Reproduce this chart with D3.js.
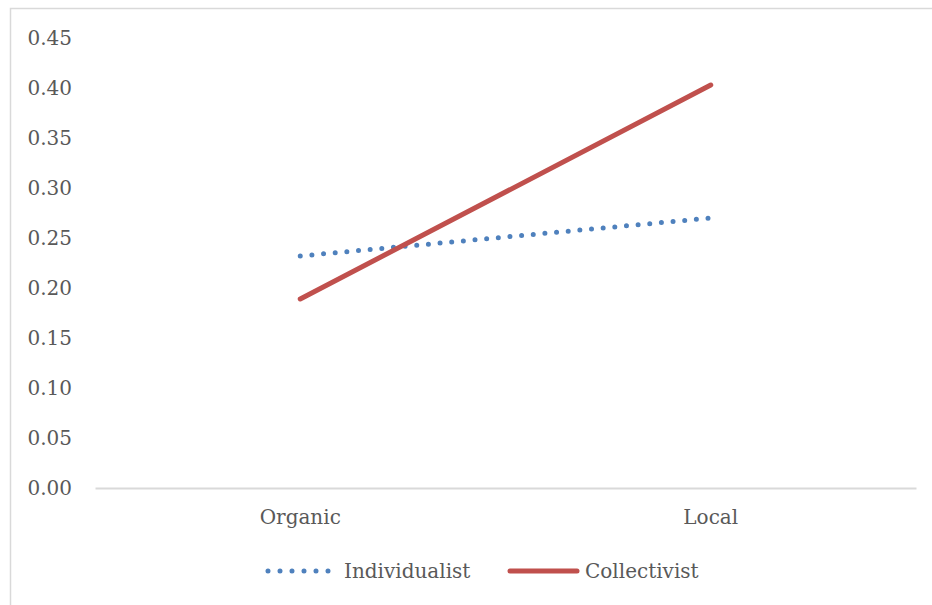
<!DOCTYPE html>
<html><head><meta charset="utf-8">
<script src="https://cdn.jsdelivr.net/npm/d3@7"></script>
<style>html,body{margin:0;padding:0;background:#fff;}svg{display:block;}</style>
</head><body>
<svg id="c" width="932" height="605"></svg>
<script>
const categories = ["Organic", "Local"];
const individualist = [0.232, 0.270];
const collectivist = [0.189, 0.403];
const yTicks = [0, 0.05, 0.10, 0.15, 0.20, 0.25, 0.30, 0.35, 0.40, 0.45];
const seriesNames = ["Individualist", "Collectivist"];

const FONT = "'DejaVu Serif', serif";
const FS = 20;
const svg = d3.select("#c");
svg.append("rect").attr("x",10.5).attr("y",8.5).attr("width",940).attr("height",620)
  .attr("fill","#fff").attr("stroke","#d9d9d9").attr("stroke-width",1.5);

const x = d3.scaleBand().domain(categories).range([95, 916]);
const y = d3.scaleLinear().domain([0, 0.45]).range([488, 38]);

// y tick labels
const ya = svg.append("g").attr("transform","translate(72,0)")
  .call(d3.axisLeft(y).tickValues(yTicks).tickFormat(d3.format(".2f")).tickSize(0).tickPadding(0));
ya.select(".domain").remove();
ya.selectAll("text").attr("font-family",FONT).attr("font-size",FS).attr("fill","#595959");

// x axis
const xa = svg.append("g").attr("transform","translate(0,488)")
  .call(d3.axisBottom(x).tickSize(0).tickPadding(22));
xa.select(".domain").attr("stroke","#d9d9d9").attr("stroke-width",2);
xa.selectAll("text").attr("font-family",FONT).attr("font-size",FS).attr("fill","#595959");

const line = d3.line().x((d,i)=>x(categories[i])+x.bandwidth()/2).y(d=>y(d));
svg.append("path").datum(individualist).attr("d",line).attr("fill","none")
  .attr("stroke","#4f81bd").attr("stroke-width",5).attr("stroke-linecap","round")
  .attr("stroke-dasharray","0 11.7");
svg.append("path").datum(collectivist).attr("d",line).attr("fill","none")
  .attr("stroke","#c0504d").attr("stroke-width",5).attr("stroke-linecap","round");

// legend
const lg = svg.append("g");
lg.append("line").attr("x1",268).attr("x2",328.5).attr("y1",571).attr("y2",571)
  .attr("stroke","#4f81bd").attr("stroke-width",5).attr("stroke-linecap","round").attr("stroke-dasharray","0 12");
lg.append("text").attr("x",344).attr("y",571).attr("dy","0.35em").text(seriesNames[0])
  .attr("font-family",FONT).attr("font-size",FS).attr("fill","#595959");
lg.append("line").attr("x1",510).attr("x2",577).attr("y1",571).attr("y2",571)
  .attr("stroke","#c0504d").attr("stroke-width",5).attr("stroke-linecap","round");
lg.append("text").attr("x",585).attr("y",571).attr("dy","0.35em").text(seriesNames[1])
  .attr("font-family",FONT).attr("font-size",FS).attr("fill","#595959");
</script>
</body></html>
